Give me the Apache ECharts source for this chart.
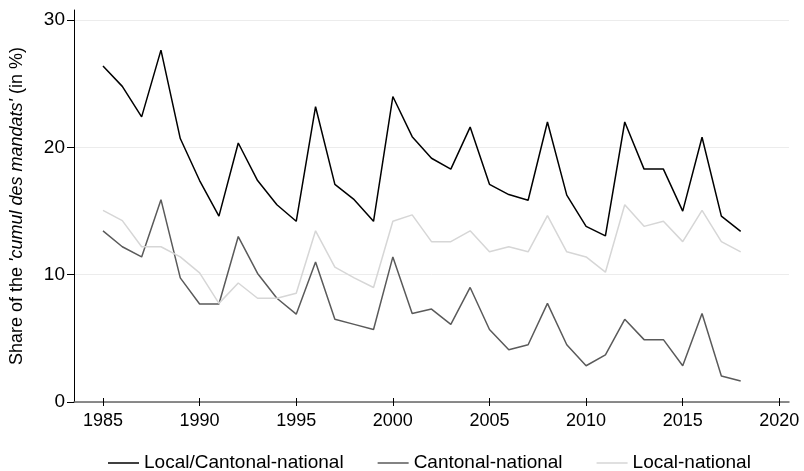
<!DOCTYPE html>
<html>
<head>
<meta charset="utf-8">
<script src="https://cdn.jsdelivr.net/npm/echarts@6/dist/echarts.min.js"></script>
<style>html,body{margin:0;padding:0;background:#fff}#c{width:804px;height:471px}</style>
</head>
<body>
<div id="c"></div>
<script>
const years = [1985,1986,1987,1988,1989,1990,1991,1992,1993,1994,1995,1996,1997,1998,1999,2000,2001,2002,2003,2004,2005,2006,2007,2008,2009,2010,2011,2012,2013,2014,2015,2016,2017,2018];
const localCantonalNational = [26.4,24.8,22.4,27.65,20.7,17.4,14.6,20.35,17.4,15.5,14.2,23.2,17.1,15.9,14.2,24.0,20.85,19.15,18.3,21.6,17.1,16.3,15.85,22.0,16.25,13.8,13.05,22.0,18.3,18.3,15.0,20.8,14.6,13.4];
const cantonalNational = [13.45,12.2,11.4,15.9,9.75,7.7,7.7,13.0,10.1,8.15,6.9,11.0,6.5,6.1,5.7,11.4,6.95,7.3,6.1,9.0,5.7,4.1,4.5,7.75,4.5,2.85,3.7,6.5,4.9,4.9,2.85,6.95,2.05,1.65];
const localNational = [15.05,14.25,12.2,12.2,11.4,10.15,7.75,9.35,8.15,8.15,8.55,13.45,10.6,9.75,9.0,14.2,14.7,12.6,12.6,13.45,11.8,12.2,11.8,14.65,11.8,11.4,10.2,15.5,13.8,14.2,12.6,15.05,12.6,11.8];
const xTicks = [1985,1990,1995,2000,2005,2010,2015,2020];
const yTicks = [0,10,20,30];

const FONT = '"Liberation Sans", Arial, sans-serif';
const pair = (arr) => years.map((y, i) => [y, arr[i]]);

const chart = echarts.init(document.getElementById('c'), null, {renderer: 'canvas'});
chart.setOption({
  animation: false,
  backgroundColor: '#fff',
  textStyle: {fontFamily: FONT},
  grid: {left: 74, right: 15, top: 10, bottom: 69, containLabel: false},
  legend: {
    left: 108, top: 453, padding: 0,
    icon: 'rect', itemWidth: 31, itemHeight: 1.5, itemGap: 34,
    textStyle: {fontFamily: FONT, fontSize: 19, color: '#000', lineHeight: 20},
    data: ['Local/Cantonal-national', 'Cantonal-national', 'Local-national']
  },
  xAxis: [{
    type: 'value', min: 1983.5, max: 2020.5,
    axisLine: {show: true, onZero: false, lineStyle: {color: '#666', width: 1.5}},
    axisTick: {show: true, customValues: xTicks, length: 4, lineStyle: {color: '#000', width: 1}},
    axisLabel: {customValues: xTicks, formatter: (v) => String(v), fontFamily: FONT, fontSize: 18, color: '#000', margin: 10},
    splitLine: {show: false}
  }, {
    type: 'value', min: 1983.5, max: 2020.5, position: 'bottom', offset: 0,
    axisLine: {show: false},
    axisTick: {show: true, inside: true, customValues: xTicks, length: 4, lineStyle: {color: '#000', width: 1}},
    axisLabel: {show: false},
    splitLine: {show: false}
  }],
  yAxis: {
    type: 'value', min: 0, max: 30.8,
    name: "{n|Share of the }{i|'cumul des mandats'}{n| (in %)}",
    nameLocation: 'middle', nameGap: 48, nameRotate: 90,
    nameTextStyle: {
      fontFamily: FONT, fontSize: 18, color: '#000',
      rich: {n: {fontFamily: FONT, fontSize: 18, color: '#000'}, i: {fontFamily: FONT, fontSize: 18, color: '#000', fontStyle: 'italic'}}
    },
    axisLine: {show: true, lineStyle: {color: '#000', width: 1}},
    axisTick: {show: true, customValues: yTicks, length: 7, lineStyle: {color: '#000'}},
    axisLabel: {customValues: yTicks, formatter: (v) => String(v), fontFamily: FONT, fontSize: 19, color: '#000', margin: 9},
    splitLine: {show: true, lineStyle: {color: '#ececec', width: 1}}
  },
  series: [
    {name: 'Local/Cantonal-national', type: 'line', data: pair(localCantonalNational), symbol: 'none', lineStyle: {color: '#000', width: 1.5}, itemStyle: {color: '#000'}},
    {name: 'Cantonal-national', type: 'line', data: pair(cantonalNational), symbol: 'none', lineStyle: {color: '#5a5a5a', width: 1.5}, itemStyle: {color: '#5a5a5a'}},
    {name: 'Local-national', type: 'line', data: pair(localNational), symbol: 'none', lineStyle: {color: '#d6d6d6', width: 1.5}, itemStyle: {color: '#d6d6d6'}}
  ]
});
</script>
</body>
</html>
